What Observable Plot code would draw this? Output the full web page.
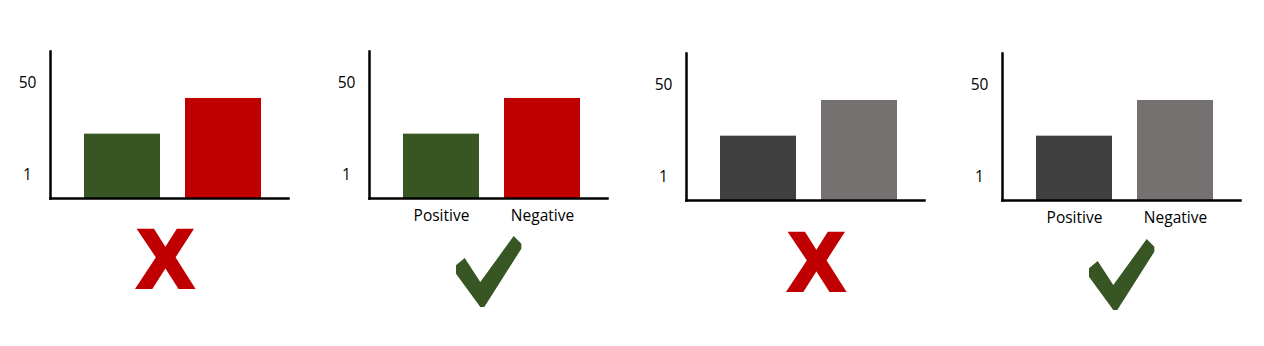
<!DOCTYPE html>
<html><head><meta charset="utf-8">
<script src="https://cdn.jsdelivr.net/npm/d3@7"></script>
<script src="https://cdn.jsdelivr.net/npm/@observablehq/plot@0.6"></script>
<style>
html,body{margin:0;background:#fff;}
#root{position:relative;width:1264px;height:346px;overflow:hidden;font-family:"Open Sans",sans-serif;}
.panel{position:absolute;}
.verdict{position:absolute;line-height:1;white-space:nowrap;}
.cross{font-family:"Liberation Sans",sans-serif;font-weight:bold;color:#c00000;font-size:82px;-webkit-text-stroke:4px #c00000;}
.tick{width:66px;height:71px;background:#375623;
  clip-path:polygon(13.2% 31%, 36.8% 64.8%, 87.4% 0%, 99% 10.8%, 99% 17.9%, 42.9% 100%, 36.8% 100%, 0% 53.1%, 0% 41.3%);}
</style></head><body><div id="root"></div>
<script>
// ---- data ----
const categories = ["Positive", "Negative"];
const values = [23, 42];
const yTicks = [1, 50];
const yDomain = [-11.25, 67];
const palettes = [
  ["#375623", "#c00000"],
  ["#375623", "#c00000"],
  ["#404040", "#767171"],
  ["#404040", "#767171"]
];
const showCategoryLabels = [false, true, false, true];
const verdictSymbols = ["X", "", "X", ""];
const verdictKinds = ["cross", "tick", "cross", "tick"];

// ---- layout ----
const panelLeft = [0, 319, 636, 952];
const panelTop = [0, 0, 2, 2];
const verdictPos = [[138, 218], [456, 236], [789, 221], [1089, 239]];

const root = document.getElementById("root");

palettes.forEach((pal, i) => {
  const data = categories.map((c, j) => ({category: c, value: values[j], color: pal[j]}));
  const marks = [
    Plot.barY(data, {x: "category", y1: yDomain[0], y2: "value", fill: "color"}),
    Plot.axisY(yTicks, {tickSize: 0, tickPadding: 23, textAnchor: "middle", fontSize: 15.5, fill: "#000", label: null}),
    Plot.frame({anchor: "left", stroke: "#000", strokeWidth: 2.5}),
    Plot.frame({anchor: "bottom", stroke: "#000", strokeWidth: 2.5})
  ];
  if (showCategoryLabels[i]) {
    marks.push(Plot.axisX({tickSize: 0, tickPadding: 11, fontSize: 15.5, fill: "#000", label: null}));
  }
  const chart = Plot.plot({
    width: 292, height: 240,
    marginLeft: 50, marginRight: 4, marginTop: 51, marginBottom: 42,
    style: {fontFamily: "'Open Sans', sans-serif", fontSize: "15.5px", color: "#000", background: "transparent"},
    x: {domain: categories, paddingInner: 0.245, paddingOuter: 0.29, align: 0.56, axis: null},
    y: {domain: yDomain, axis: null},
    color: {type: "identity"},
    marks
  });
  const div = document.createElement("div");
  div.className = "panel";
  div.style.left = panelLeft[i] + "px";
  div.style.top = panelTop[i] + "px";
  div.appendChild(chart);
  root.appendChild(div);

  const v = document.createElement("div");
  v.className = "verdict " + verdictKinds[i];
  v.textContent = verdictSymbols[i];
  v.style.left = verdictPos[i][0] + "px";
  v.style.top = verdictPos[i][1] + "px";
  root.appendChild(v);
});
</script>
</body></html>
